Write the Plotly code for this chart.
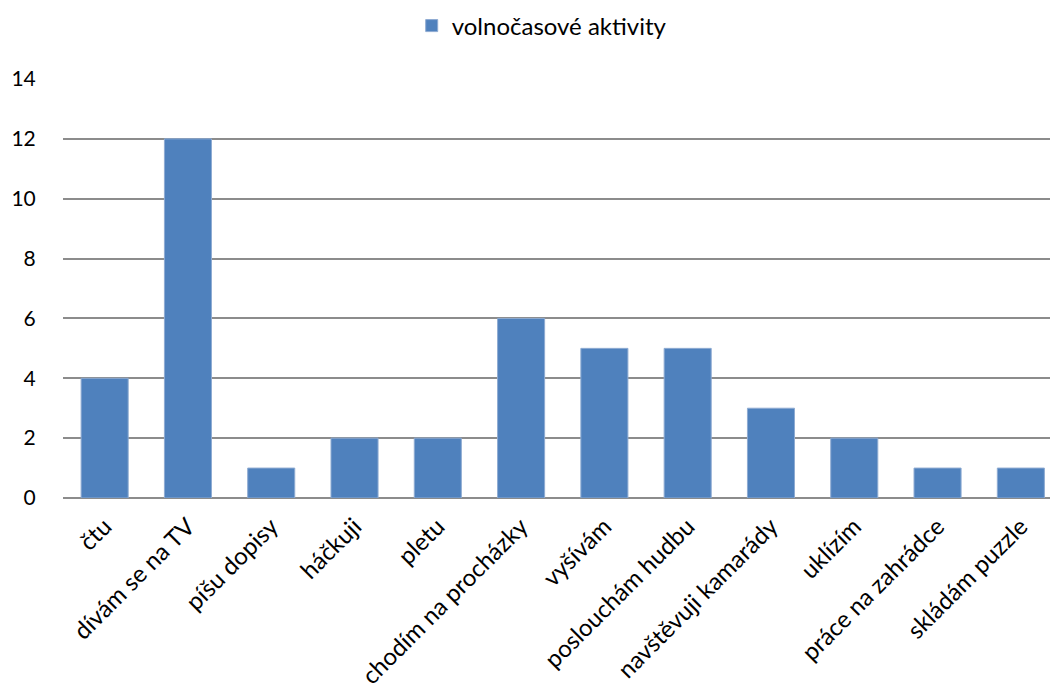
import plotly.graph_objects as go

categories = ["čtu", "dívám se na TV", "píšu dopisy", "háčkuji", "pletu",
              "chodím na procházky", "vyšívám", "poslouchám hudbu",
              "navštěvuji kamarády", "uklízím", "práce na zahrádce", "skládám puzzle"]
values = [4, 12, 1, 2, 2, 6, 5, 5, 3, 2, 1, 1]
series_name = "volnočasové aktivity"
y_ticks = [0, 2, 4, 6, 8, 10, 12, 14]

FONT = "Lato, 'Open Sans', sans-serif"

fig = go.Figure(
    go.Bar(
        x=categories,
        y=values,
        name=series_name,
        width=0.565,
        marker=dict(color="#4F81BD", line=dict(color="#8EABD2", width=1)),
        showlegend=True,
    )
)

fig.update_layout(
    width=1050,
    height=693,
    margin=dict(l=63, r=0, t=79, b=195),
    paper_bgcolor="white",
    plot_bgcolor="white",
    font=dict(family=FONT, size=21, color="#000000"),
    legend=dict(
        orientation="h",
        x=0.485, xanchor="center",
        yref="container",
        y=1 - 26 / 693, yanchor="middle",
        font=dict(family=FONT, size=24),
        itemwidth=30,
    ),
    xaxis=dict(
        type="category",
        range=[-0.5, 11.35],
        tickangle=-45,
        showgrid=False,
        showline=False,
        ticks="outside",
        ticklen=4,
        tickcolor="rgba(0,0,0,0)",
        tickfont=dict(family=FONT, size=24),
    ),
    yaxis=dict(
        range=[0, 14],
        tickvals=y_ticks,
        showgrid=True,
        gridcolor="#8C8C8C",
        gridwidth=1.5,
        zeroline=True,
        zerolinecolor="#8C8C8C",
        zerolinewidth=2,
        showline=False,
        ticks="outside",
        ticklen=22,
        tickcolor="rgba(0,0,0,0)",
        tickfont=dict(family=FONT, size=21),
    ),
)

fig.write_html("out.html")
